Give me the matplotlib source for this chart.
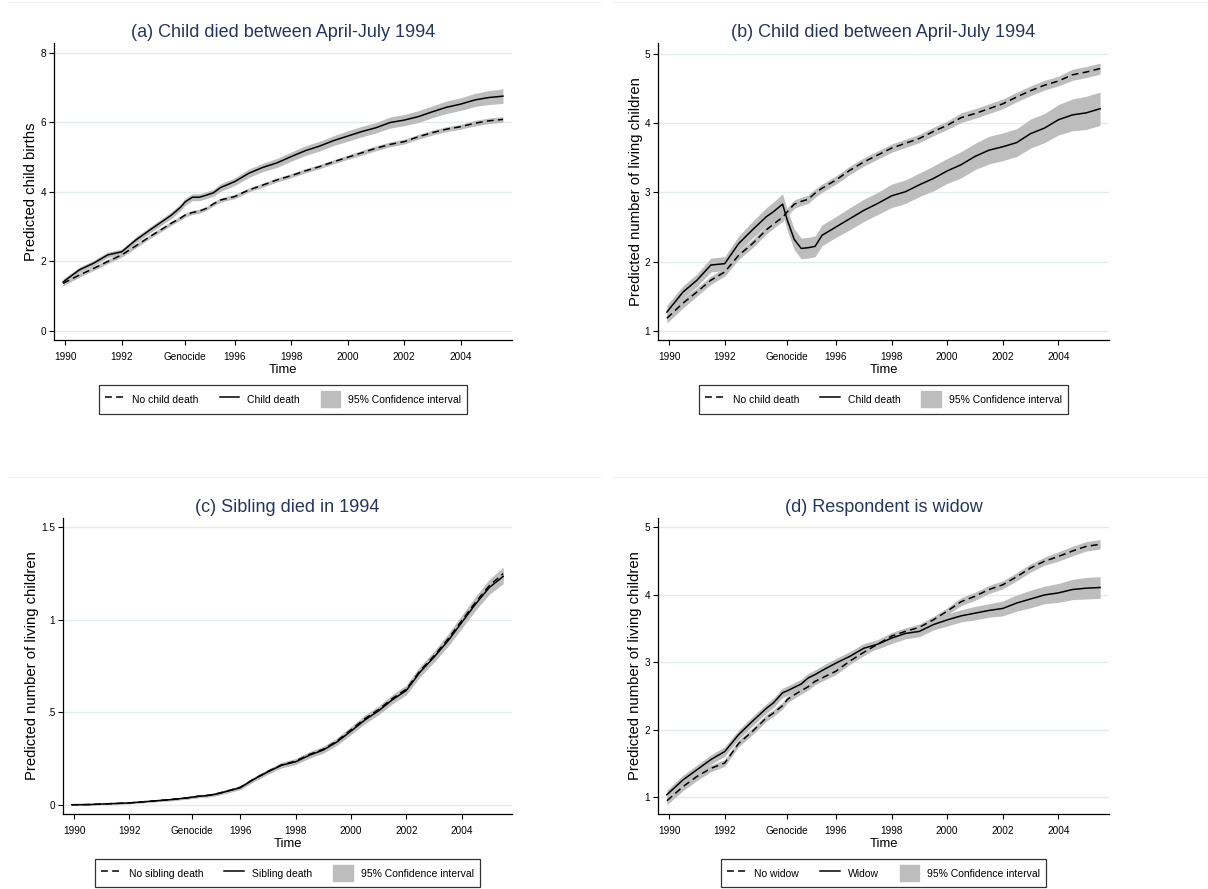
import numpy as np
import matplotlib
matplotlib.use("Agg")
import matplotlib.pyplot as plt
from matplotlib.lines import Line2D
from matplotlib.patches import Patch

plt.rcParams['font.family'] = ['Liberation Sans', 'DejaVu Sans']

# time axis (years), denser around the genocide months
t = [1989.92, 1990.5, 1991.0, 1991.5, 1992.0, 1992.5, 1993.0, 1993.5,
     1993.75, 1994.08, 1994.25, 1994.5, 1994.75, 1995.0, 1995.25,
     1995.5, 1996.0, 1996.5, 1997.0, 1997.5, 1998.0, 1998.5, 1999.0, 1999.5,
     2000.0, 2000.5, 2001.0, 2001.5, 2002.0, 2002.5, 2003.0, 2003.5,
     2004.0, 2004.5, 2005.0, 2005.5]

xtick_pos = [1990, 1992, 1994.25, 1996, 1998, 2000, 2002, 2004]
xtick_lab = ["1990", "1992", "Genocide", "1996", "1998", "2000", "2002", "2004"]

# (a) predicted child births
a_nodeath = [1.36, 1.60, 1.79, 1.99, 2.18, 2.44, 2.71, 2.96,
             3.09, 3.24, 3.33, 3.40, 3.44, 3.52, 3.65,
             3.76, 3.86, 4.05, 4.19, 4.34, 4.46, 4.60, 4.72, 4.86, 4.99, 5.12,
             5.25, 5.36, 5.44, 5.58, 5.70, 5.80, 5.87, 5.97, 6.04, 6.08]
a_death = [1.40, 1.75, 1.94, 2.18, 2.27, 2.61, 2.90, 3.18,
           3.32, 3.55, 3.71, 3.84, 3.84, 3.90, 3.97,
           4.12, 4.29, 4.53, 4.70, 4.83, 5.01, 5.18, 5.31, 5.47, 5.60, 5.73,
           5.84, 5.99, 6.06, 6.16, 6.30, 6.43, 6.52, 6.64, 6.71, 6.75]
a_nodeath_ci = [0.07, 0.06, 0.06, 0.06, 0.06, 0.06, 0.06, 0.06,
                0.06, 0.06, 0.06, 0.06, 0.06, 0.06, 0.06,
                0.06, 0.06, 0.06, 0.06, 0.06, 0.06, 0.06, 0.06, 0.06, 0.06, 0.07,
                0.07, 0.07, 0.07, 0.07, 0.07, 0.07, 0.07, 0.08, 0.08, 0.08]
a_death_ci = [0.09, 0.08, 0.08, 0.08, 0.08, 0.09, 0.09, 0.09,
              0.10, 0.10, 0.10, 0.10, 0.10, 0.10, 0.10,
              0.11, 0.11, 0.12, 0.12, 0.13, 0.13, 0.14, 0.14, 0.14, 0.15, 0.15,
              0.15, 0.16, 0.16, 0.17, 0.17, 0.18, 0.18, 0.19, 0.20, 0.21]

# (b) living children, child death
b_nodeath = [1.18, 1.40, 1.56, 1.73, 1.85, 2.09, 2.26, 2.46,
             2.54, 2.64, 2.72, 2.83, 2.87, 2.90, 2.99,
             3.06, 3.18, 3.32, 3.44, 3.54, 3.64, 3.71, 3.78, 3.88, 3.97, 4.08,
             4.14, 4.21, 4.28, 4.38, 4.47, 4.55, 4.61, 4.70, 4.74, 4.79]
b_death = [1.27, 1.56, 1.73, 1.95, 1.97, 2.26, 2.46, 2.65,
           2.72, 2.83, 2.60, 2.32, 2.19, 2.20, 2.22,
           2.38, 2.50, 2.62, 2.74, 2.84, 2.95, 3.01, 3.11, 3.20, 3.31, 3.40,
           3.52, 3.61, 3.66, 3.72, 3.85, 3.93, 4.05, 4.12, 4.15, 4.21]
b_nodeath_ci = [0.07, 0.07, 0.06, 0.06, 0.06, 0.06, 0.06, 0.06,
                0.06, 0.06, 0.06, 0.06, 0.06, 0.06, 0.06,
                0.06, 0.06, 0.06, 0.06, 0.06, 0.06, 0.06, 0.06, 0.06, 0.06, 0.07,
                0.07, 0.07, 0.07, 0.07, 0.07, 0.07, 0.07, 0.08, 0.08, 0.08]
b_death_ci = [0.10, 0.09, 0.09, 0.10, 0.10, 0.11, 0.12, 0.13,
              0.14, 0.15, 0.15, 0.15, 0.15, 0.15, 0.15,
              0.15, 0.15, 0.16, 0.16, 0.16, 0.17, 0.17, 0.17, 0.18, 0.18, 0.19,
              0.19, 0.20, 0.20, 0.20, 0.21, 0.21, 0.22, 0.23, 0.24, 0.24]

# (c) living children, sibling death
c_nodeath = [0.000, 0.001, 0.004, 0.007, 0.010, 0.016, 0.022, 0.028,
             0.032, 0.037, 0.041, 0.046, 0.049, 0.054, 0.063,
             0.073, 0.094, 0.140, 0.180, 0.216, 0.236, 0.272, 0.300, 0.345, 0.405, 0.465,
             0.515, 0.575, 0.625, 0.725, 0.805, 0.895, 0.995, 1.095, 1.185, 1.250]
c_death = [0.000, 0.001, 0.004, 0.007, 0.010, 0.016, 0.022, 0.028,
           0.032, 0.037, 0.041, 0.046, 0.049, 0.054, 0.062,
           0.072, 0.092, 0.138, 0.178, 0.214, 0.232, 0.268, 0.296, 0.340, 0.398, 0.458,
           0.508, 0.568, 0.618, 0.718, 0.798, 0.885, 0.985, 1.085, 1.175, 1.235]
c_nodeath_ci = [0.002, 0.003, 0.003, 0.004, 0.004, 0.005, 0.005, 0.006,
                0.006, 0.007, 0.007, 0.007, 0.008, 0.008, 0.009,
                0.009, 0.010, 0.011, 0.012, 0.013, 0.014, 0.015, 0.016, 0.017, 0.018, 0.019,
                0.020, 0.021, 0.022, 0.024, 0.025, 0.027, 0.029, 0.031, 0.034, 0.036]
c_death_ci = [0.002, 0.003, 0.003, 0.004, 0.004, 0.005, 0.005, 0.006,
              0.006, 0.007, 0.007, 0.008, 0.008, 0.009, 0.009,
              0.010, 0.011, 0.012, 0.013, 0.014, 0.015, 0.016, 0.017, 0.018, 0.019, 0.020,
              0.021, 0.022, 0.024, 0.026, 0.028, 0.030, 0.032, 0.034, 0.037, 0.040]

# (d) living children, widowhood
d_nowidow = [0.95, 1.16, 1.31, 1.43, 1.51, 1.80, 1.98, 2.18,
             2.25, 2.36, 2.45, 2.52, 2.58, 2.64, 2.72,
             2.77, 2.87, 3.02, 3.15, 3.27, 3.39, 3.46, 3.52, 3.63, 3.76, 3.90,
             3.98, 4.08, 4.15, 4.27, 4.40, 4.50, 4.57, 4.65, 4.72, 4.75]
d_widow = [1.04, 1.26, 1.41, 1.56, 1.68, 1.93, 2.13, 2.32,
           2.40, 2.55, 2.58, 2.63, 2.68, 2.77, 2.82,
           2.88, 2.99, 3.09, 3.21, 3.27, 3.36, 3.43, 3.46, 3.56, 3.63, 3.69,
           3.73, 3.77, 3.80, 3.88, 3.94, 4.00, 4.03, 4.08, 4.10, 4.11]
d_nowidow_ci = [0.06, 0.06, 0.06, 0.05, 0.05, 0.05, 0.05, 0.05,
                0.05, 0.05, 0.05, 0.05, 0.05, 0.05, 0.05,
                0.05, 0.05, 0.05, 0.05, 0.05, 0.05, 0.05, 0.05, 0.05, 0.05, 0.06,
                0.06, 0.06, 0.06, 0.06, 0.06, 0.06, 0.07, 0.07, 0.07, 0.07]
d_widow_ci = [0.07, 0.07, 0.07, 0.07, 0.07, 0.07, 0.07, 0.07,
              0.07, 0.07, 0.07, 0.07, 0.07, 0.07, 0.07,
              0.07, 0.07, 0.07, 0.07, 0.07, 0.08, 0.08, 0.08, 0.08, 0.09, 0.09,
              0.10, 0.10, 0.11, 0.12, 0.13, 0.13, 0.14, 0.15, 0.16, 0.16]

BAND = "#bdbdbd"
GRID = "#e3ecec"
TITLE = "#26365a"

W, H = 1208, 889
fig = plt.figure(figsize=(W / 100, H / 100), dpi=100)


def px_axes(left, top, right, bottom):
    return fig.add_axes([left / W, 1 - bottom / H, (right - left) / W, (bottom - top) / H])


def panel(ax, title, ylabel, y0, ci0, y1, ci1, ylim, yticks, yticklabels,
          names, ylab_x):
    t_arr = np.array(t)
    for y, ci in ((y0, ci0), (y1, ci1)):
        y = np.array(y); ci = np.array(ci)
        ax.fill_between(t_arr, y - ci, y + ci, color=BAND, lw=0, zorder=1)
    ax.plot(t_arr, y0, color="black", lw=1.1, ls=(0, (4.5, 2.8)), zorder=3)
    ax.plot(t_arr, y1, color="black", lw=1.1, zorder=3)

    ax.set_xlim(1989.6, 2005.82)
    ax.set_ylim(*ylim)
    ax.set_xticks(xtick_pos)
    ax.set_xticklabels(xtick_lab)
    ax.set_yticks(yticks)
    ax.set_yticklabels(yticklabels)
    ax.tick_params(axis="both", direction="out", length=3.6, width=0.8,
                   labelsize=7.2, color="black")
    ax.tick_params(axis="x", pad=5)
    ax.tick_params(axis="y", pad=2)
    ax.yaxis.grid(True, color=GRID, lw=1.0)
    ax.set_axisbelow(True)
    for s in ("top", "right"):
        ax.spines[s].set_visible(False)
    for s in ("left", "bottom"):
        ax.spines[s].set_linewidth(0.9)

    ax.set_title(title, fontsize=13, color=TITLE, pad=4.5)
    ax.set_ylabel(ylabel, fontsize=10.7)
    ax.yaxis.set_label_coords(ylab_x, 0.5)
    ax.set_xlabel("Time", fontsize=9.4, labelpad=1.2)

    handles = [Line2D([], [], color="black", lw=1.1, ls=(0, (4.5, 2.8))),
               Line2D([], [], color="black", lw=1.1),
               Patch(facecolor=BAND, edgecolor=BAND)]
    leg = ax.legend(handles, names + ["95% Confidence interval"], ncol=3,
                    loc="center", bbox_to_anchor=(0.5, -0.2),
                    fontsize=7.5, frameon=True, fancybox=False,
                    handlelength=1.9, handleheight=2.0, handletextpad=0.75,
                    columnspacing=2.0, borderpad=0.6, borderaxespad=0)
    fr = leg.get_frame()
    fr.set_edgecolor("black")
    fr.set_linewidth(0.9)


# faint top edges of the four graph regions
for (x0, x1, yy) in [(8, 600, 1.5), (612, 1208, 1.5), (8, 600, 477), (612, 1208, 477)]:
    fig.add_artist(Line2D([x0 / W, x1 / W], [1 - yy / H, 1 - yy / H],
                          transform=fig.transFigure, color="#edf2f2", lw=0.8))

ax_a = px_axes(54, 43, 512, 340)
panel(ax_a, "(a) Child died between April-July 1994", "Predicted child births",
      a_nodeath, a_nodeath_ci, a_death, a_death_ci, (-0.27, 8.28),
      [0, 2, 4, 6, 8], ["0", "2", "4", "6", "8"],
      ["No child death", "Child death"], -0.035)

ax_b = px_axes(658, 43, 1109, 340)
panel(ax_b, "(b) Child died between April-July 1994",
      "Predicted number of living children",
      b_nodeath, b_nodeath_ci, b_death, b_death_ci, (0.866, 5.16),
      [1, 2, 3, 4, 5], ["1", "2", "3", "4", "5"],
      ["No child death", "Child death"], -0.034)

ax_c = px_axes(63, 518, 512, 814)
panel(ax_c, "(c) Sibling died in 1994", "Predicted number of living children",
      c_nodeath, c_nodeath_ci, c_death, c_death_ci, (-0.05, 1.551),
      [0, 0.5, 1, 1.5], ["0", ".5", "1", "1.5"],
      ["No sibling death", "Sibling death"], -0.053)

ax_d = px_axes(658, 518, 1109, 814)
panel(ax_d, "(d) Respondent is widow", "Predicted number of living children",
      d_nowidow, d_nowidow_ci, d_widow, d_widow_ci, (0.754, 5.14),
      [1, 2, 3, 4, 5], ["1", "2", "3", "4", "5"],
      ["No widow", "Widow"], -0.036)

fig.savefig("out.png", dpi=100, facecolor="white")
